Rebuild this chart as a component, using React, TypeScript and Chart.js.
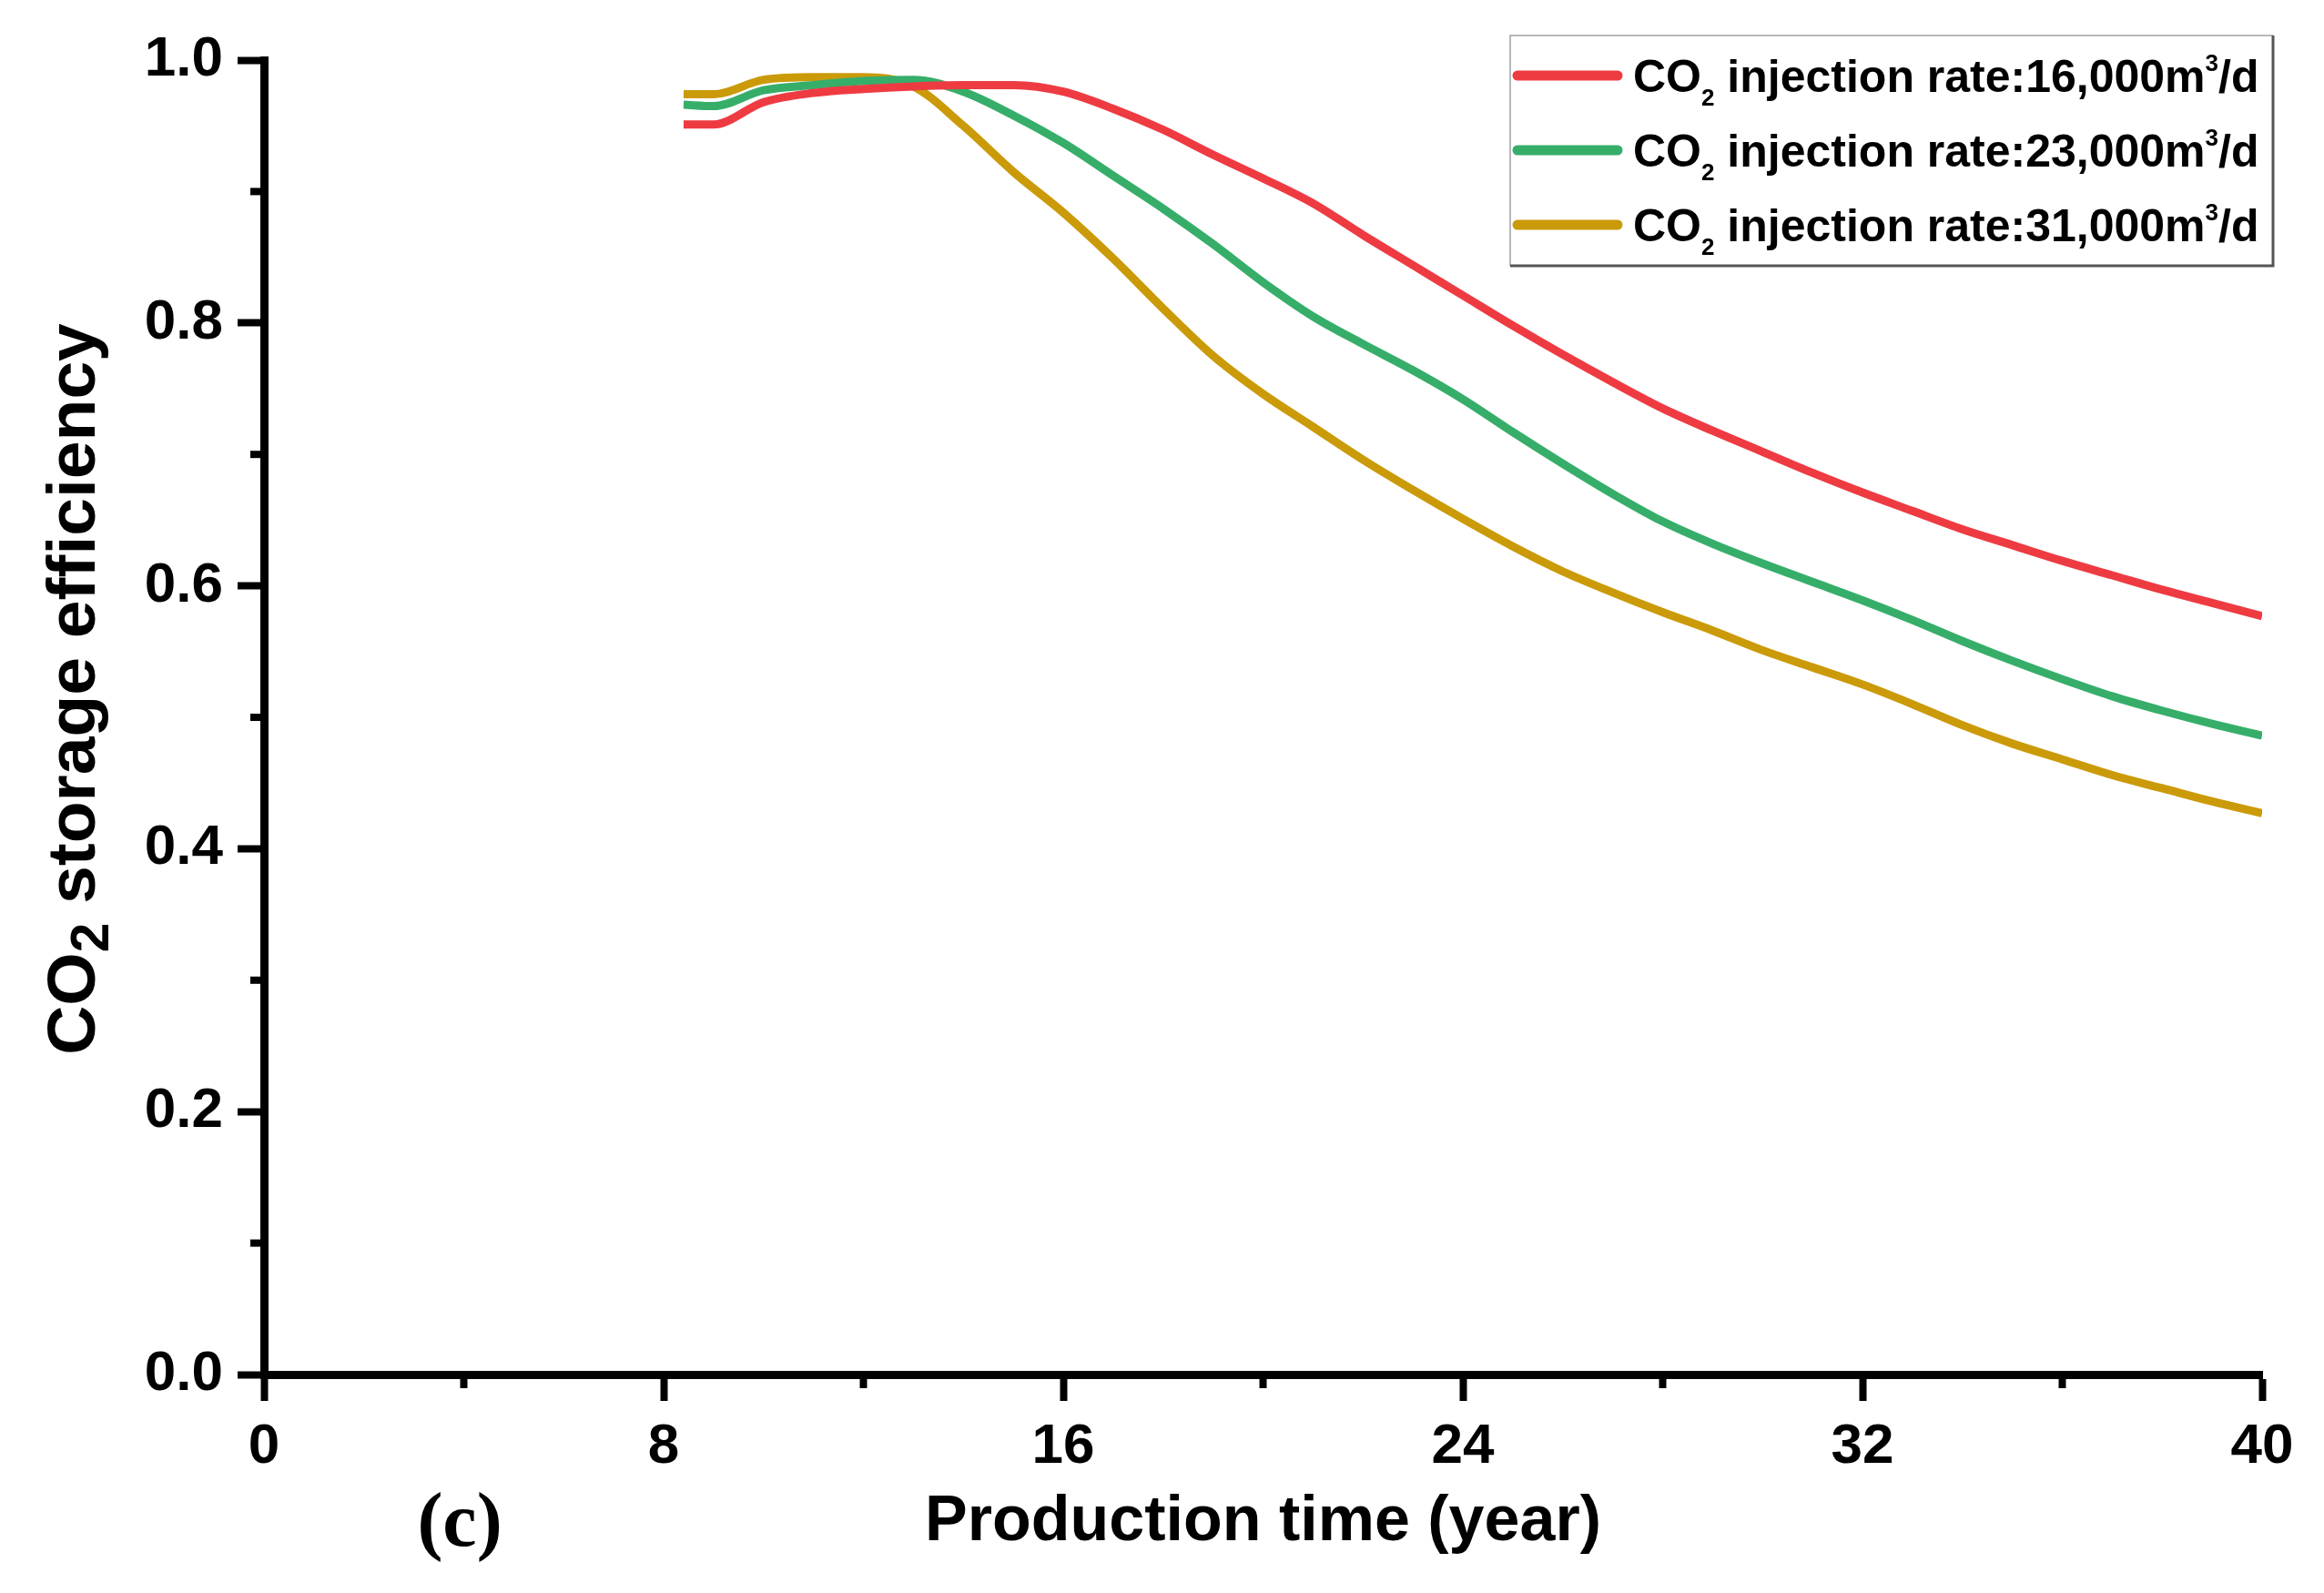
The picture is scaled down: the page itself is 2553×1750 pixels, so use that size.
import React, { useEffect, useRef } from 'react';
import { Chart, registerables } from 'chart.js';

Chart.register(...registerables);

// ---------------- data ----------------
const years = [8.4, 9, 10, 11, 12, 13, 14, 15, 16, 17, 18, 19, 20, 21, 22, 23, 24, 25, 26, 27, 28, 29, 30, 31, 32, 33, 34, 35, 36, 37, 38, 39, 40];

const rate16000 = [0.951, 0.951, 0.968, 0.975, 0.978, 0.980, 0.981, 0.981, 0.976, 0.963, 0.947, 0.928, 0.910, 0.891, 0.867, 0.844, 0.821, 0.798, 0.776, 0.755, 0.735, 0.718, 0.702, 0.686, 0.671, 0.657, 0.643, 0.631, 0.619, 0.608, 0.597, 0.587, 0.577];

const rate23000 = [0.966, 0.965, 0.977, 0.981, 0.984, 0.985, 0.976, 0.958, 0.937, 0.912, 0.887, 0.860, 0.831, 0.805, 0.784, 0.764, 0.742, 0.717, 0.693, 0.670, 0.649, 0.632, 0.617, 0.603, 0.589, 0.574, 0.558, 0.543, 0.529, 0.516, 0.505, 0.495, 0.486];

const rate31000 = [0.974, 0.974, 0.985, 0.987, 0.987, 0.980, 0.950, 0.915, 0.884, 0.849, 0.811, 0.775, 0.746, 0.721, 0.696, 0.673, 0.651, 0.630, 0.611, 0.595, 0.580, 0.566, 0.551, 0.538, 0.525, 0.510, 0.494, 0.480, 0.468, 0.456, 0.446, 0.436, 0.427];

const seriesLabels = [
  'CO₂ injection rate:16,000m³/d',
  'CO₂ injection rate:23,000m³/d',
  'CO₂ injection rate:31,000m³/d',
];
const seriesColors = ['#EE3B42', '#36AE6A', '#CB9A09'];

const xMin = 0;
const xMax = 40;
const xStep = 4;
const xLabelEvery = 8;
const yMin = 0;
const yMax = 1.0;
const yStep = 0.1;

const xAxisTitle = 'Production time (year)';
const yAxisTitle = 'CO₂ storage efficiency';
const panelLabel = '(c)';

// ---------------- layout constants ----------------
const W = 2553;
const H = 1750;
const AREA_LEFT = 290;
const AREA_RIGHT = 2485;
const AREA_TOP = 66;
const AREA_BOTTOM = 1510;
const SANS = '"Liberation Sans", Arial, Helvetica, sans-serif';
const SERIF = '"Liberation Serif", "Times New Roman", serif';

type Seg = { t: string; k: 'n' | 'sub' | 'sup' };
const SUB: Record<string, string> = { '₂': '2' };
const SUP: Record<string, string> = { '³': '3' };

function toSegs(text: string): Seg[] {
  const out: Seg[] = [];
  for (const ch of text) {
    const k: Seg['k'] = SUB[ch] ? 'sub' : SUP[ch] ? 'sup' : 'n';
    const t = SUB[ch] || SUP[ch] || ch;
    const last = out[out.length - 1];
    if (last && last.k === k) last.t += t;
    else out.push({ t, k });
  }
  return out;
}

type RichOpts = { size: number; subScale: number; subDy: number; supScale: number; supDy: number };

function segFont(k: Seg['k'], o: RichOpts) {
  const s = k === 'sub' ? o.size * o.subScale : k === 'sup' ? o.size * o.supScale : o.size;
  return `bold ${s}px ${SANS}`;
}

function richWidth(ctx: CanvasRenderingContext2D, segs: Seg[], o: RichOpts) {
  let w = 0;
  for (const s of segs) {
    ctx.font = segFont(s.k, o);
    w += ctx.measureText(s.t).width;
  }
  return w;
}

function drawRich(ctx: CanvasRenderingContext2D, segs: Seg[], x: number, y: number, o: RichOpts) {
  let cx = x;
  ctx.textBaseline = 'alphabetic';
  ctx.textAlign = 'left';
  for (const s of segs) {
    ctx.font = segFont(s.k, o);
    const dy = s.k === 'sub' ? o.size * o.subDy : s.k === 'sup' ? -o.size * o.supDy : 0;
    ctx.fillText(s.t, cx, y + dy);
    cx += ctx.measureText(s.t).width;
  }
  return cx - x;
}

const decorPlugin = {
  id: 'decor',
  afterDraw(chart: any) {
    const ctx: CanvasRenderingContext2D = chart.ctx;
    const xs = chart.scales.x;
    const ys = chart.scales.y;
    ctx.save();
    ctx.fillStyle = '#000';
    ctx.strokeStyle = '#000';

    // minor ticks
    ctx.lineWidth = 8;
    ctx.lineCap = 'butt';
    for (const t of xs.ticks) {
      if (Math.round(t.value) % xLabelEvery !== 0) {
        const px = xs.getPixelForValue(t.value);
        ctx.beginPath();
        ctx.moveTo(px, chart.chartArea.bottom);
        ctx.lineTo(px, chart.chartArea.bottom + 15);
        ctx.stroke();
      }
    }
    for (const t of ys.ticks) {
      if (Math.round(t.value * 10) % 2 !== 0) {
        const py = ys.getPixelForValue(t.value);
        ctx.beginPath();
        ctx.moveTo(chart.chartArea.left, py);
        ctx.lineTo(chart.chartArea.left - 15, py);
        ctx.stroke();
      }
    }

    // y axis title (rotated, with subscript)
    const yOpts: RichOpts = { size: 75, subScale: 0.78, subDy: 0.2, supScale: 0.55, supDy: 0.45 };
    const ySegs = toSegs(yAxisTitle);
    const yw = richWidth(ctx, ySegs, yOpts);
    ctx.save();
    ctx.translate(77, 757);
    ctx.rotate(-Math.PI / 2);
    drawRich(ctx, ySegs, -yw / 2, 0.36 * yOpts.size, yOpts);
    ctx.restore();

    // panel label
    ctx.font = `bold 84px ${SERIF}`;
    ctx.textAlign = 'center';
    ctx.textBaseline = 'middle';
    ctx.fillText(panelLabel, 505, 1676);

    // legend
    const bx = 1659, by = 39, bw = 2497 - 1659, bh = 292 - 39;
    ctx.fillStyle = '#fff';
    ctx.fillRect(bx, by, bw, bh);
    ctx.lineWidth = 2;
    ctx.strokeStyle = '#b8b8b8';
    ctx.beginPath();
    ctx.moveTo(bx, by + bh);
    ctx.lineTo(bx, by);
    ctx.lineTo(bx + bw, by);
    ctx.stroke();
    ctx.lineWidth = 3;
    ctx.strokeStyle = '#555';
    ctx.beginPath();
    ctx.moveTo(bx + bw, by);
    ctx.lineTo(bx + bw, by + bh);
    ctx.lineTo(bx, by + bh);
    ctx.stroke();

    const lOpts: RichOpts = { size: 50, subScale: 0.52, subDy: 0.3, supScale: 0.52, supDy: 0.46 };
    chart.data.datasets.forEach((ds: any, i: number) => {
      const cy = 83 + i * 82;
      ctx.strokeStyle = ds.borderColor;
      ctx.lineWidth = 11;
      ctx.lineCap = 'round';
      ctx.beginPath();
      ctx.moveTo(1667, cy);
      ctx.lineTo(1777, cy);
      ctx.stroke();
      ctx.fillStyle = '#000';
      drawRich(ctx, toSegs(ds.label), 1794, cy + 0.36 * lOpts.size, lOpts);
    });
    ctx.restore();
  },
};

export default function App() {
  const ref = useRef<HTMLCanvasElement | null>(null);

  useEffect(() => {
    const canvas = ref.current;
    if (!canvas) return;
    const seriesValues = [rate16000, rate23000, rate31000];
    const chart = new Chart(canvas, {
      type: 'line',
      data: {
        datasets: seriesValues.map((vals, i) => ({
          label: seriesLabels[i],
          data: years.map((x, j) => ({ x, y: vals[j] })),
          borderColor: seriesColors[i],
          backgroundColor: seriesColors[i],
          borderWidth: 9,
          pointRadius: 0,
          cubicInterpolationMode: 'monotone',
          fill: false,
        })),
      },
      options: {
        animation: false,
        responsive: false,
        devicePixelRatio: 1,
        layout: { padding: { left: 0, top: AREA_TOP, right: W - AREA_RIGHT, bottom: 0 } },
        plugins: {
          legend: { display: false },
          tooltip: { enabled: false },
          title: { display: false },
        },
        scales: {
          x: {
            type: 'linear',
            min: xMin,
            max: xMax,
            afterFit: (s: any) => {
              s.height = H - AREA_BOTTOM;
            },
            border: { display: true, color: '#000', width: 9 },
            grid: {
              drawOnChartArea: false,
              drawTicks: true,
              tickLength: 29,
              tickWidth: 8,
              tickColor: (c: any) => (c.tick && Math.round(c.tick.value) % xLabelEvery === 0 ? '#000' : 'rgba(0,0,0,0)'),
            },
            ticks: {
              stepSize: xStep,
              autoSkip: false,
              maxRotation: 0,
              padding: 14,
              color: '#000',
              font: { family: SANS, size: 62, weight: 'bold' },
              callback: (v: any) => (Math.round(v) % xLabelEvery === 0 ? String(v) : ''),
            },
            title: {
              display: true,
              text: xAxisTitle,
              color: '#000',
              font: { family: SANS, size: 70, weight: 'bold', lineHeight: 1.2 },
              padding: { top: 0, bottom: 35 },
            },
          },
          y: {
            type: 'linear',
            min: yMin,
            max: yMax,
            afterFit: (s: any) => {
              s.width = AREA_LEFT;
            },
            border: { display: true, color: '#000', width: 9 },
            grid: {
              drawOnChartArea: false,
              drawTicks: true,
              tickLength: 29,
              tickWidth: 8,
              tickColor: (c: any) => (c.tick && Math.round(c.tick.value * 10) % 2 === 0 ? '#000' : 'rgba(0,0,0,0)'),
            },
            ticks: {
              stepSize: yStep,
              autoSkip: false,
              padding: 16,
              color: '#000',
              font: { family: SANS, size: 62, weight: 'bold' },
              callback: (v: any) => (Math.round(v * 10) % 2 === 0 ? Number(v).toFixed(1) : ''),
            },
          },
        },
      } as any,
      plugins: [decorPlugin],
    });
    return () => chart.destroy();
  }, []);

  return (
    <div style={{ position: 'fixed', left: 0, top: 0, width: W, height: H, background: '#fff' }}>
      <canvas ref={ref} width={W} height={H} style={{ display: 'block' }} />
    </div>
  );
}
